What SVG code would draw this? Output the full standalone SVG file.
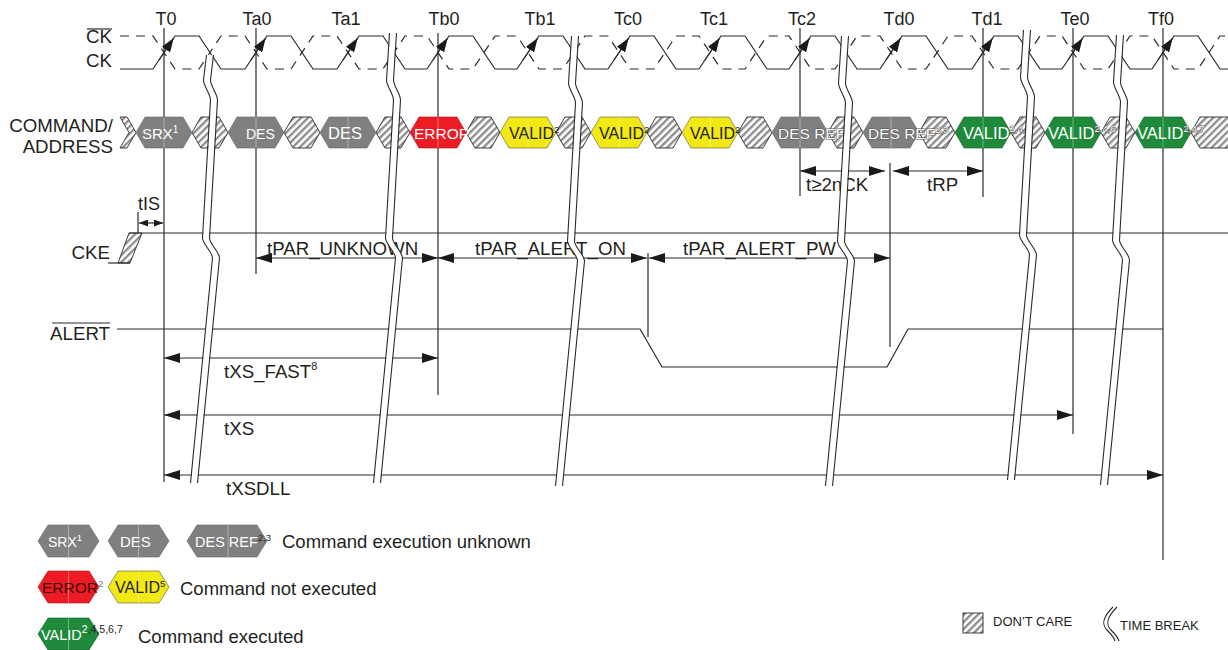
<svg xmlns="http://www.w3.org/2000/svg" width="1228" height="650" viewBox="0 0 1228 650">
<style>
text{font-family:"Liberation Sans",Arial,Helvetica,sans-serif;fill:#231f20}
.l18{font-size:18.7px}
.tl{font-size:18px;text-anchor:middle}
.r{text-anchor:end}
.ln{stroke:#2a2a2a;stroke-width:1.2;fill:none}
.ckd{stroke:#2a2a2a;stroke-width:1.2;fill:none;stroke-dasharray:9 7}
.hat{fill:url(#hatch);stroke:#2a2a2a;stroke-width:0.9}
.g{fill:#808080;stroke:#666;stroke-width:0.6}
.red{fill:#ed1c24;stroke:#a01015;stroke-width:0.6}
.yel{fill:#f2e814;stroke:#555;stroke-width:0.6}
.grn{fill:#1f8a3c;stroke:#145c28;stroke-width:0.6}
.mid{stroke:#fff;stroke-opacity:0.35;stroke-width:1}
.bw{stroke:#fff;stroke-width:6;fill:none}
.bl{stroke:#2a2a2a;stroke-width:1.1;fill:none}
.hw{fill:#fff}
.ol{fill:#fff;stroke:#555;stroke-width:1;paint-order:stroke;stroke-linejoin:round}
</style>
<defs>
<pattern id="hatch" patternUnits="userSpaceOnUse" width="5" height="5" patternTransform="rotate(45)">
<rect width="5" height="5" fill="#fff"/><rect width="2.3" height="5" fill="#8c8c8c"/>
</pattern>
<marker id="ah" markerUnits="userSpaceOnUse" markerWidth="16" markerHeight="10" refX="16" refY="5" orient="auto-start-reverse"><path d="M0,0L16,5L0,10z" fill="#1a1a1a"/></marker>
<marker id="ahs" markerUnits="userSpaceOnUse" markerWidth="9" markerHeight="7" refX="9" refY="3.5" orient="auto-start-reverse"><path d="M0,0L9,3.5L0,7z" fill="#1a1a1a"/></marker>
<marker id="cka" markerUnits="userSpaceOnUse" markerWidth="14" markerHeight="10" refX="14" refY="5" orient="auto"><path d="M0,0L14,5L0,10z" fill="#1a1a1a"/></marker>
<path id="brk" d="M0,33 L-3,80 C-3,86 4,94 4,100 L-4,238 C-4,244 6,252 6,258 L-16,483"/>
<path id="brk1" d="M0,55 L-3,80 C-3,86 4,94 4,100 L-4,238 C-4,244 6,252 6,258 L-16,483"/>
</defs>
<rect width="1228" height="650" fill="#fff"/>

<g id="labels">
<text class="tl" x="166" y="25">T0</text>
<text class="tl" x="257" y="25">Ta0</text>
<text class="tl" x="346" y="25">Ta1</text>
<text class="tl" x="444" y="25">Tb0</text>
<text class="tl" x="540" y="25">Tb1</text>
<text class="tl" x="628" y="25">Tc0</text>
<text class="tl" x="714" y="25">Tc1</text>
<text class="tl" x="802" y="25">Tc2</text>
<text class="tl" x="899" y="25">Td0</text>
<text class="tl" x="987" y="25">Td1</text>
<text class="tl" x="1075" y="25">Te0</text>
<text class="tl" x="1161" y="25">Tf0</text>
<text class="l18 r" x="112" y="43">CK</text>
<line class="ln" x1="87" y1="29" x2="112" y2="29" stroke-width="1"/>
<text class="l18 r" x="112" y="67">CK</text>
<text class="l18 r" x="113" y="132">COMMAND/</text>
<text class="l18 r" x="113" y="153">ADDRESS</text>
<text class="l18 r" x="110" y="259">CKE</text>
<text class="l18 r" x="110" y="340">ALERT</text>
<line class="ln" x1="52" y1="323" x2="110" y2="323" stroke-width="1"/>
</g>

<g id="timelines">
<line class="ln" x1="164" y1="28" x2="164" y2="482"/>
<line class="ln" x1="256" y1="28" x2="256" y2="274"/>
<line class="ln" x1="438" y1="33" x2="438" y2="395"/>
<line class="ln" x1="800" y1="28" x2="800" y2="196"/>
<line class="ln" x1="983" y1="28" x2="983" y2="197"/>
<line class="ln" x1="1073" y1="28" x2="1073" y2="434"/>
<line class="ln" x1="1163" y1="28" x2="1163" y2="560" stroke="#555"/>
<line class="ln" x1="890" y1="163" x2="890" y2="347"/>
<line class="ln" x1="648" y1="253" x2="648" y2="337"/>
<line class="ln" x1="138" y1="212" x2="138" y2="243"/>
</g>

<g id="clock">
<path class="ckd" d="M120,36 L153,36 L175,69 L199,69 L221,36 L245,36 L267,69 L291,69 L313,36 L337,36 L359,69 L383,69 L405,36 L427,36 L449,69 L473,69 L495,36 L517,36 L539,69 L563,69 L585,36 L608,36 L630,69 L654,69 L676,36 L699,36 L721,69 L745,69 L767,36 L789,36 L811,69 L835,69 L857,36 L880,36 L902,69 L926,69 L948,36 L972,36 L994,69 L1018,69 L1040,36 L1062,36 L1084,69 L1108,69 L1130,36 L1152,36 L1174,69 L1198,69 L1220,36 L1228,36"/>
<path class="ln" d="M120,69 L153,69 L175,36 L199,36 L221,69 L245,69 L267,36 L291,36 L313,69 L337,69 L359,36 L383,36 L405,69 L427,69 L449,36 L473,36 L495,69 L517,69 L539,36 L563,36 L585,69 L608,69 L630,36 L654,36 L676,69 L699,69 L721,36 L745,36 L767,69 L789,69 L811,36 L835,36 L857,69 L880,69 L902,36 L926,36 L948,69 L972,69 L994,36 L1018,36 L1040,69 L1062,69 L1084,36 L1108,36 L1130,69 L1152,69 L1174,36 L1198,36 L1220,69 L1228,69"/>
<g class="ln">
<line x1="159" y1="60" x2="173.7" y2="38" marker-end="url(#cka)"/>
<line x1="251" y1="60" x2="265.7" y2="38" marker-end="url(#cka)"/>
<line x1="343" y1="60" x2="357.7" y2="38" marker-end="url(#cka)"/>
<line x1="433" y1="60" x2="447.7" y2="38" marker-end="url(#cka)"/>
<line x1="523" y1="60" x2="537.7" y2="38" marker-end="url(#cka)"/>
<line x1="614" y1="60" x2="628.7" y2="38" marker-end="url(#cka)"/>
<line x1="705" y1="60" x2="719.7" y2="38" marker-end="url(#cka)"/>
<line x1="795" y1="60" x2="809.7" y2="38" marker-end="url(#cka)"/>
<line x1="886" y1="60" x2="900.7" y2="38" marker-end="url(#cka)"/>
<line x1="978" y1="60" x2="992.7" y2="38" marker-end="url(#cka)"/>
<line x1="1068" y1="60" x2="1082.7" y2="38" marker-end="url(#cka)"/>
<line x1="1158" y1="60" x2="1172.7" y2="38" marker-end="url(#cka)"/>
</g>
</g>

<g id="cmd">
<polygon class="hat" points="120,117 127,117 136,132.5 127,148 120,148 129,132.5"/>
<polygon class="hat" points="192,132.5 201,117 219,117 228,132.5 219,148 201,148"/>
<polygon class="hat" points="284,132.5 293,117 311,117 320,132.5 311,148 293,148"/>
<polygon class="hat" points="376,132.5 385,117 401,117 410,132.5 401,148 385,148"/>
<polygon class="hat" points="466,132.5 475,117 491,117 500,132.5 491,148 475,148"/>
<polygon class="hat" points="556,132.5 565,117 582,117 591,132.5 582,148 565,148"/>
<polygon class="hat" points="647,132.5 656,117 673,117 682,132.5 673,148 656,148"/>
<polygon class="hat" points="738,132.5 747,117 763,117 772,132.5 763,148 747,148"/>
<polygon class="hat" points="828,132.5 837,117 854,117 863,132.5 854,148 837,148"/>
<polygon class="hat" points="919,132.5 928,117 946,117 955,132.5 946,148 928,148"/>
<polygon class="hat" points="1011,132.5 1020,117 1036,117 1045,132.5 1036,148 1020,148"/>
<polygon class="hat" points="1101,132.5 1110,117 1126,117 1135,132.5 1126,148 1110,148"/>
<polygon class="hat" points="1191,132.5 1200,117 1240,117 1240,148 1200,148"/>

<g id="n-srx"><polygon class="g" points="136,132.5 145,117 183,117 192,132.5 183,148 145,148"/><line class="mid" x1="164" y1="117" x2="164" y2="148"/>
<text class="hw" x="142" y="138.5" font-size="15">SRX<tspan font-size="10" dy="-6">1</tspan></text></g>
<g id="n-des1"><polygon class="g" points="228,132.5 237,117 275,117 284,132.5 275,148 237,148"/><line class="mid" x1="256" y1="117" x2="256" y2="148"/>
<text class="hw" x="246" y="138.5" font-size="14">DES</text></g>
<g id="n-des2"><polygon class="g" points="320,132.5 329,117 367,117 376,132.5 367,148 329,148"/><line class="mid" x1="348" y1="117" x2="348" y2="148"/>
<text class="hw" x="328" y="138.5" font-size="16.5">DES</text></g>
<g id="n-err"><polygon class="red" points="410,132.5 419,117 457,117 466,132.5 457,148 419,148"/><line class="mid" x1="438" y1="117" x2="438" y2="148"/>
<text class="hw" x="414" y="138.5" font-size="15.5">ERROR</text></g>
<g id="n-v1"><polygon class="yel" points="500,132.5 509,117 547,117 556,132.5 547,148 509,148"/><line class="mid" x1="528" y1="117" x2="528" y2="148"/>
<text x="509" y="138.5" font-size="16">VALID<tspan font-size="9.5" dy="-6">2</tspan></text></g>
<g id="n-v2"><polygon class="yel" points="591,132.5 600,117 638,117 647,132.5 638,148 600,148"/><line class="mid" x1="619" y1="117" x2="619" y2="148"/>
<text x="599" y="138.5" font-size="16">VALID<tspan font-size="9.5" dy="-6">2</tspan></text></g>
<g id="n-v3"><polygon class="yel" points="682,132.5 691,117 729,117 738,132.5 729,148 691,148"/><line class="mid" x1="710" y1="117" x2="710" y2="148"/>
<text x="690" y="138.5" font-size="16">VALID<tspan font-size="9.5" dy="-6">2</tspan></text></g>
<g id="n-ref1"><polygon class="g" points="772,132.5 781,117 819,117 828,132.5 819,148 781,148"/><line class="mid" x1="800" y1="117" x2="800" y2="148"/>
<text class="ol" x="778" y="138.5" font-size="15.5">DES REF<tspan font-size="9.5" dy="-6">2</tspan></text></g>
<g id="n-ref2"><polygon class="g" points="863,132.5 872,117 910,117 919,132.5 910,148 872,148"/><line class="mid" x1="891" y1="117" x2="891" y2="148"/>
<text class="ol" x="868" y="138.5" font-size="15.5">DES REF<tspan font-size="9.5" dy="-6">2,3</tspan></text></g>
<g id="n-g1"><polygon class="grn" points="955,132.5 964,117 1002,117 1011,132.5 1002,148 964,148"/><line class="mid" x1="983" y1="117" x2="983" y2="148"/>
<text class="hw" x="963" y="138.5" font-size="16.5">VALID<tspan class="ol" font-size="9.5" dy="-7">2,4,6</tspan></text></g>
<g id="n-g2"><polygon class="grn" points="1045,132.5 1054,117 1092,117 1101,132.5 1092,148 1054,148"/><line class="mid" x1="1073" y1="117" x2="1073" y2="148"/>
<text class="hw" x="1048" y="138.5" font-size="16.5">VALID<tspan class="ol" font-size="9.5" dy="-7">2,4,6</tspan></text></g>
<g id="n-g3"><polygon class="grn" points="1135,132.5 1144,117 1182,117 1191,132.5 1182,148 1144,148"/><line class="mid" x1="1163" y1="117" x2="1163" y2="148"/>
<text class="hw" x="1137" y="138.5" font-size="16.5">VALID<tspan class="ol" font-size="9.5" dy="-7">2,4,7</tspan></text></g>
</g>

<g id="cke">
<polygon class="hat" points="118,263 129,233 142,233 130,263"/>
<line class="ln" x1="108" y1="263" x2="130" y2="263"/>
<line class="ln" x1="129" y1="233" x2="1228" y2="233"/>
</g>

<g id="alert">
<path class="ln" d="M117,329 L640,329 L662,367 L887,367 L908,329 L1163,329"/>
</g>

<g id="connectors">
<line class="ln" x1="139" y1="223" x2="163" y2="223" marker-start="url(#ahs)" marker-end="url(#ahs)"/>
<line class="ln" x1="800" y1="171" x2="885" y2="171" marker-start="url(#ah)" marker-end="url(#ah)"/>
<line class="ln" x1="893" y1="171" x2="983" y2="171" marker-start="url(#ah)" marker-end="url(#ah)"/>
<line class="ln" x1="256" y1="258" x2="438" y2="258" marker-start="url(#ah)" marker-end="url(#ah)"/>
<line class="ln" x1="438" y1="258" x2="647" y2="258" marker-start="url(#ah)" marker-end="url(#ah)"/>
<line class="ln" x1="649" y1="258" x2="890" y2="258" marker-start="url(#ah)" marker-end="url(#ah)"/>
<line class="ln" x1="164" y1="358" x2="438" y2="358" marker-start="url(#ah)" marker-end="url(#ah)"/>
<line class="ln" x1="164" y1="415" x2="1073" y2="415" marker-start="url(#ah)" marker-end="url(#ah)"/>
<line class="ln" x1="164" y1="475" x2="1163" y2="475" marker-start="url(#ah)" marker-end="url(#ah)"/>
</g>

<g id="timing-labels">
<text x="138" y="210" font-size="18">tIS</text>
<text class="l18" x="806" y="191">t≥2nCK</text>
<text class="l18" x="927" y="191">tRP</text>
<text class="l18" x="267" y="255">tPAR_UNKNOWN</text>
<text class="l18" x="475" y="255">tPAR_ALERT_ON</text>
<text class="l18" x="683" y="255">tPAR_ALERT_PW</text>
<text class="l18" x="224" y="378">tXS_FAST<tspan font-size="11" dy="-8">8</tspan></text>
<text class="l18" x="224" y="435">tXS</text>
<text class="l18" x="226" y="495">tXSDLL</text>
</g>

<g id="breaks">
<g transform="translate(210,0)"><use href="#brk1" class="bw"/><use href="#brk1" class="bl" x="-3.5"/><use href="#brk1" class="bl" x="3.5"/></g>
<g transform="translate(393,0)"><use href="#brk" class="bw"/><use href="#brk" class="bl" x="-3.5"/><use href="#brk" class="bl" x="3.5"/></g>
<g transform="translate(575,3)"><use href="#brk" class="bw"/><use href="#brk" class="bl" x="-3.5"/><use href="#brk" class="bl" x="3.5"/></g>
<g transform="translate(845,3)"><use href="#brk" class="bw"/><use href="#brk" class="bl" x="-3.5"/><use href="#brk" class="bl" x="3.5"/></g>
<g transform="translate(1027,-3)"><use href="#brk" class="bw"/><use href="#brk" class="bl" x="-3.5"/><use href="#brk" class="bl" x="3.5"/></g>
<g transform="translate(1120,2)"><use href="#brk" class="bw"/><use href="#brk" class="bl" x="-3.5"/><use href="#brk" class="bl" x="3.5"/></g>
</g>

<g id="legend">
<polygon class="g" points="38,541 48,525 89,525 99,541 89,557 48,557"/><line class="mid" x1="68.5" y1="525" x2="68.5" y2="557"/>
<text class="hw" x="48" y="547" font-size="14">SRX<tspan font-size="9.5" dy="-6">1</tspan></text>
<polygon class="g" points="108,541 118,525 159,525 169,541 159,557 118,557"/><line class="mid" x1="138.5" y1="525" x2="138.5" y2="557"/>
<text class="hw" x="120" y="547" font-size="15">DES</text>
<polygon class="g" points="187,541 197,525 257,525 267,541 257,557 197,557"/><line class="mid" x1="228" y1="525" x2="228" y2="557"/>
<text class="hw" x="195" y="547" font-size="14.5">DES REF<tspan font-size="9.5" dy="-6" style="fill:#231f20">2,3</tspan></text>
<text x="282" y="548" font-size="18.5">Command execution unknown</text>

<polygon class="red" points="38,587 48,571 89,571 99,587 89,603 48,603"/><line class="mid" x1="68.5" y1="571" x2="68.5" y2="603"/>
<text x="42" y="593" font-size="15.5" style="fill:#3d0b0b">ERROR<tspan font-size="9.5" dy="-6" style="fill:#777">2</tspan></text>
<polygon class="yel" points="108,587 118,571 159,571 169,587 159,603 118,603"/><line class="mid" x1="138.5" y1="571" x2="138.5" y2="603"/>
<text x="115" y="593" font-size="16">VALID<tspan font-size="9.5" dy="-6">5</tspan></text>
<text x="180" y="595" font-size="18.5">Command not executed</text>

<polygon class="grn" points="38,634 48,618 89,618 99,634 89,650 48,650"/><line class="mid" x1="68.5" y1="618" x2="68.5" y2="650"/>
<text class="hw" x="41" y="640" font-size="14.5">VALID<tspan font-size="10.5" dy="-7">2</tspan><tspan font-size="10.5" style="fill:#231f20">,4,5,6,7</tspan></text>
<text x="138" y="643" font-size="18.5">Command executed</text>

<rect class="hat" x="963" y="613" width="20" height="20"/>
<text x="993" y="626" font-size="13">DON’T CARE</text>
<path class="bl" d="M1113,607 C1103,617 1101,624 1107,630 C1111,634 1114,637 1115,641"/>
<path class="bl" d="M1117,607 C1107,617 1105,624 1111,630 C1115,634 1118,637 1119,641"/>
<text x="1120" y="630" font-size="13">TIME BREAK</text>
</g>
</svg>
